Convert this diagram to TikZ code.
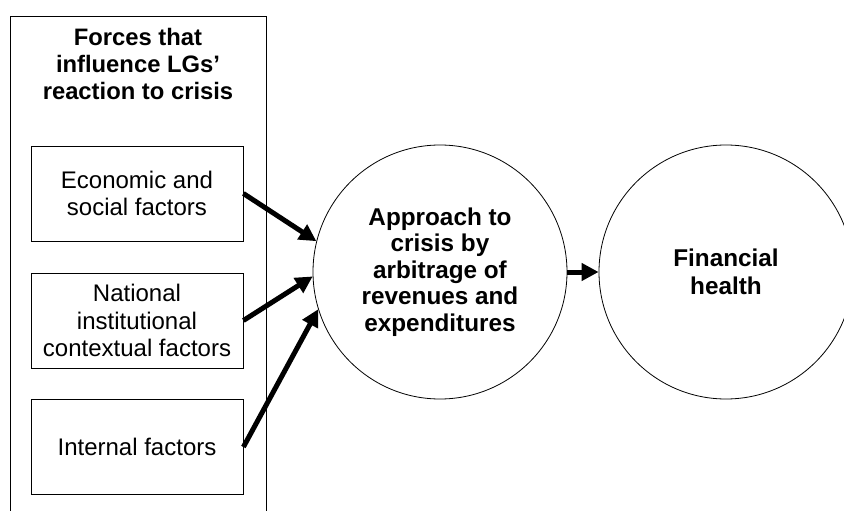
\documentclass[tikz,border=0pt]{standalone}
\usepackage{fontspec}
\setmainfont{Liberation Sans}
\usetikzlibrary{arrows.meta}
\begin{document}
\begin{tikzpicture}[x=1pt,y=-1pt,
  thinline/.style={draw, line width=0.8pt},
  factorbox/.style={thinline, minimum width=212pt, minimum height=95pt, inner sep=0pt, align=center, font=\fontsize{24}{27.6}\selectfont},
  bubble/.style={thinline, circle, minimum size=254pt, inner sep=0pt, align=center, font=\fontsize{24.3}{26.5}\selectfont\bfseries},
  titletext/.style={align=center, inner sep=0pt, font=\fontsize{23.8}{27}\selectfont\bfseries},
  bigarrow/.style={line width=5pt, -{Triangle[length=17pt,width=17pt]}},
]
\useasboundingbox (0,0) rectangle (844,511);
\clip (0,0) rectangle (844,511);
% outer frame (open at the bottom)
\draw[thinline] (10,530) -- (10,16) -- (266,16) -- (266,530);
\node[titletext] (title) at (138,64) {Forces that\\influence LGs’\\reaction to crisis};
\node[factorbox] (b1) at (137,193.5) {Economic and\\social factors};
\node[factorbox] (b2) at (137,320.5) {National\\institutional\\contextual factors};
\node[factorbox] (b3) at (137,447) {Internal factors};
\node[bubble] (c1) at (440,272) {Approach to\\crisis by\\arbitrage of\\revenues and\\expenditures};
\node[bubble, font=\fontsize{24.3}{28}\selectfont\bfseries] (c2) at (726,272) {\raisebox{0pt}[17.5pt][0pt]{}Financial\\health};
\draw[bigarrow] (b1.east) -- (c1.166);
\draw[bigarrow] (b2.east) -- (c1.182);
\draw[bigarrow] (b3.east) -- (c1.197);
\draw[bigarrow] (c1.east) -- (c2.west);
\end{tikzpicture}
\end{document}
